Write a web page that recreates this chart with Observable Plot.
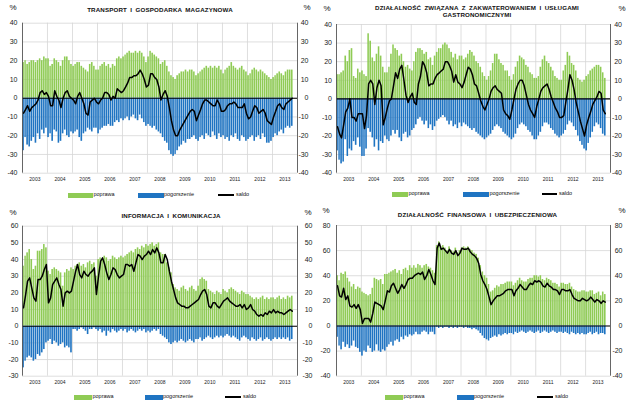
<!DOCTYPE html>
<html>
<head>
<meta charset="utf-8">
<script src="https://cdn.jsdelivr.net/npm/d3@7"></script>
<script src="https://cdn.jsdelivr.net/npm/@observablehq/plot@0.6"></script>
<style>
  html, body { margin: 0; padding: 0; background: #fff; }
  #root { position: relative; width: 640px; height: 415px; overflow: hidden; background: #fff;
          font-family: "Liberation Sans", Arial, sans-serif; color: #111; }
  #root svg { position: absolute; overflow: visible; }
  .t { position: absolute; white-space: nowrap; line-height: 1; }
  .title { font-weight: bold; font-size: 6.2px; letter-spacing: 0.15px; word-spacing: 1.5px; }
  .pct { font-size: 8px; }
  .leg { font-size: 5.5px; }
  .sw { position: absolute; }
</style>
</head>
<body>
<div id="root"></div>
<script>
// ---------- categories / tick labels ----------
const startYear = 2003;
const monthCount = 130;          // Jan 2003 – Oct 2013
const years = [2003, 2004, 2005, 2006, 2007, 2008, 2009, 2010, 2011, 2012, 2013];
const legendLabels = ["poprawa", "pogorszenie", "saldo"];

// ---------- TRANSPORT I GOSPODARKA MAGAZYNOWA ----------
const transportPoprawa = [
  19,20,18,19,20,20,19,20,21,20,22,21,
  21,17,18,21,20,19,17,20,22,22,20,18,
  17,18,19,19,17,16,15,14,18,19,17,15,
  15,17,18,19,17,18,16,18,17,21,22,21,
  22,23,24,25,24,24,25,24,25,24,22,19,
  22,25,24,23,22,21,18,19,20,17,14,12,
  11,10,12,13,14,14,15,14,15,15,14,12,
  13,14,15,16,17,16,17,16,17,16,17,15,
  13,15,16,17,19,17,16,15,16,17,15,14,
  12,13,15,16,15,14,15,14,13,12,11,10,
  11,12,13,14,13,12,14,15,15,15];
const transportPogorszenie = [
  -28,-21,-25,-26,-23,-21,-24,-19,-22,-17,-19,-16,
  -21,-19,-23,-17,-18,-24,-23,-19,-17,-20,-21,-18,
  -19,-18,-17,-21,-23,-19,-18,-16,-17,-18,-16,-16,
  -19,-17,-16,-15,-15,-14,-15,-15,-13,-12,-13,-11,
  -12,-11,-10,-12,-10,-9,-11,-12,-9,-11,-13,-15,
  -14,-15,-16,-15,-17,-18,-19,-21,-23,-24,-28,-30,
  -31,-30,-28,-26,-25,-23,-24,-22,-22,-21,-20,-22,
  -23,-21,-20,-22,-19,-20,-21,-18,-20,-22,-19,-21,
  -20,-22,-21,-23,-20,-21,-19,-22,-23,-20,-21,-23,
  -22,-21,-20,-23,-21,-20,-22,-19,-21,-24,-24,-23,
  -21,-19,-20,-18,-17,-19,-16,-15,-16,-15];
const transportSaldo = [
  -8,-6,-4,-7,-5,-4,-3,-1,3,4,2,3,
  1,-4,-4,4,1,-1,-5,0,3,4,1,0,
  -1,-3,1,3,0,-3,-8,-9,-2,-1,0,-2,
  -3,-1,0,3,3,2,-1,1,0,5,4,3,
  4,6,8,11,11,12,12,13,15,13,10,6,
  7,13,13,11,10,6,-1,2,4,1,-5,-12,
  -17,-20,-20,-17,-15,-13,-11,-9,-7,-6,-7,-12,
  -9,-6,-3,-1,-1,-2,-3,-4,-4,-1,-3,-7,
  -7,-6,-4,-3,-3,-2,-3,-5,-5,-5,-3,-8,
  -11,-10,-7,-4,-5,-8,-7,-6,-8,-12,-13,-14,
  -10,-7,-4,-3,-5,-6,-3,-2,-1,0];

// ---------- ZAKWATEROWANIE I GASTRONOMIA ----------
const hotelPoprawa = [
  13,13,14,15,23,20,26,27,12,11,16,14,
  15,13,12,35,31,22,20,24,28,23,17,14,
  14,17,24,29,27,26,23,24,20,17,18,16,
  15,20,25,27,27,26,24,25,21,22,18,23,
  25,27,27,29,30,29,27,25,22,24,21,23,
  23,21,22,24,26,25,23,20,19,17,14,12,
  10,12,15,19,24,24,21,19,18,15,15,12,
  10,13,17,20,23,22,21,18,17,14,13,11,
  11,12,17,21,23,20,19,17,15,12,11,10,
  10,15,18,25,23,19,18,15,11,10,9,10,
  12,13,15,16,17,18,18,17,14,11];
const hotelPogorszenie = [
  -28,-33,-35,-34,-22,-31,-27,-28,-23,-25,-21,-26,
  -31,-31,-27,-16,-18,-21,-26,-22,-28,-23,-24,-20,
  -22,-23,-20,-17,-19,-17,-21,-23,-19,-18,-21,-20,
  -17,-16,-14,-11,-10,-12,-14,-12,-16,-14,-17,-15,
  -12,-11,-10,-9,-10,-12,-14,-12,-15,-14,-16,-13,
  -15,-13,-14,-15,-16,-17,-16,-18,-19,-20,-21,-22,
  -21,-20,-19,-17,-15,-14,-15,-16,-18,-19,-20,-21,
  -22,-21,-19,-16,-14,-13,-14,-15,-17,-18,-20,-22,
  -22,-20,-18,-15,-13,-13,-14,-16,-17,-19,-20,-21,
  -20,-19,-17,-14,-12,-13,-15,-17,-20,-23,-25,-27,
  -28,-24,-21,-18,-15,-13,-14,-16,-19,-20];
const hotelSaldo = [
  -15,-19,-21,-14,-7,-5,0,-10,-10,-12,-8,-8,
  -8,-16,-9,8,10,8,-3,6,10,7,-14,-10,
  -5,-1,0,7,14,11,16,18,10,2,-2,1,
  3,-2,-3,8,12,20,18,14,7,8,8,11,
  13,14,15,16,20,20,18,15,9,13,9,8,
  6,9,13,17,16,13,8,7,3,-1,-4,-6,
  -3,0,4,6,7,5,4,3,-6,-8,-9,-11,
  -6,0,5,8,10,10,7,2,-3,-6,-8,-10,
  -4,0,4,6,7,8,5,1,-2,-5,-7,-10,
  -10,-9,-2,5,13,10,5,-2,-7,-12,-16,-20,
  -14,-10,-7,-3,-1,1,4,3,-6,-8];

// ---------- INFORMACJA I KOMUNIKACJA ----------
const infoPoprawa = [
  36,42,44,46,40,34,36,45,45,46,49,47,
  33,31,34,35,34,33,32,24,32,34,33,35,
  34,36,37,38,36,37,35,38,39,37,38,30,
  40,41,40,42,41,39,40,42,41,40,41,42,
  41,42,43,44,45,44,46,47,46,48,47,49,
  48,49,50,48,49,50,44,43,43,38,35,32,
  25,23,22,21,23,24,22,21,23,24,22,21,
  24,28,29,28,27,22,21,20,19,21,20,19,
  22,21,20,22,23,22,21,20,19,21,20,19,
  19,18,17,16,17,16,17,18,16,17,16,17,
  17,16,17,18,16,17,16,18,17,18];
const infoPogorszenie = [
  -25,-21,-19,-18,-19,-21,-20,-17,-18,-16,-14,-10,
  -9,-8,-11,-9,-10,-12,-11,-10,-13,-12,-13,-16,
  -2,-2,-3,-2,-1,-2,-3,-5,-2,-2,-1,-2,
  -3,-2,-4,-3,-6,-3,-4,-2,-3,-4,-3,-2,
  -3,-2,-4,-3,-2,-3,-4,-3,-2,-3,-2,-4,
  -3,-4,-3,-2,-3,-2,-5,-6,-7,-8,-10,-11,
  -10,-9,-10,-9,-8,-9,-10,-9,-8,-9,-10,-8,
  -8,-7,-9,-8,-7,-6,-7,-8,-7,-6,-7,-6,
  -7,-6,-5,-6,-7,-6,-7,-8,-9,-7,-6,-7,
  -8,-9,-7,-8,-9,-8,-7,-9,-8,-7,-8,-9,
  -8,-7,-8,-7,-8,-7,-8,-7,-9,-8];
const infoSaldo = [
  11,19,27,29,23,17,15,28,28,30,34,37,
  14,17,25,27,29,25,22,12,20,21,20,21,
  27,33,37,31,29,33,31,30,32,33,35,19,
  30,39,41,37,32,28,31,35,34,31,29,30,
  31,37,37,36,37,33,38,43,42,40,42,43,
  45,43,46,44,47,44,38,38,43,40,33,27,
  22,17,14,13,12,12,11,11,12,13,14,15,
  16,19,21,22,19,12,11,14,14,12,11,13,
  15,16,17,15,14,13,12,12,13,11,13,10,
  11,13,10,9,7,6,7,6,8,7,9,8,
  10,8,9,8,8,7,8,9,10,9];

// ---------- FINANSE I UBEZPIECZENIA ----------
const financePoprawa = [
  40,36,42,41,43,38,35,31,33,29,31,30,
  27,26,25,24,25,30,38,37,36,37,33,41,
  41,42,43,44,45,42,44,41,45,46,44,48,
  46,48,46,49,48,46,48,49,47,46,44,42,
  64,67,63,64,62,60,63,60,59,62,58,60,
  62,63,62,63,61,60,58,57,54,48,43,40,
  38,33,27,28,30,32,31,33,33,34,35,35,
  35,32,34,36,38,36,35,35,37,38,38,40,
  40,39,40,37,36,38,37,36,34,34,33,31,
  34,34,33,33,34,31,29,28,27,27,28,28,
  27,27,28,28,25,26,27,24,27,25];
const financePogorszenie = [
  -9,-16,-19,-13,-17,-15,-18,-16,-12,-17,-18,-21,
  -24,-20,-21,-16,-18,-21,-20,-15,-20,-21,-19,-20,
  -17,-15,-13,-16,-12,-11,-13,-9,-11,-8,-9,-7,
  -8,-7,-5,-7,-7,-5,-4,-5,-7,-5,-5,-7,
  -1,-2,-1,-2,-1,-1,-2,-1,-2,-1,-2,-1,
  -1,-2,-1,-2,-2,-3,-2,-3,-4,-6,-8,-10,
  -11,-12,-10,-9,-8,-9,-7,-8,-7,-6,-7,-6,
  -6,-7,-5,-6,-5,-4,-5,-6,-5,-4,-5,-6,
  -5,-4,-6,-5,-4,-5,-6,-5,-4,-5,-6,-5,
  -5,-6,-5,-6,-7,-5,-6,-7,-6,-7,-6,-7,
  -7,-6,-5,-7,-6,-5,-7,-6,-6,-7];
const financeSaldo = [
  32,24,23,30,21,24,16,15,17,14,17,13,
  2,6,6,6,3,10,19,18,17,16,13,20,
  28,27,32,34,30,26,29,33,30,33,37,38,
  38,40,41,42,41,43,37,40,45,41,36,33,
  62,66,61,62,60,58,61,58,57,60,56,58,
  62,61,61,62,59,57,56,54,50,41,36,33,
  29,23,17,20,22,24,24,25,26,28,29,29,
  29,24,28,30,33,31,29,29,32,34,33,36,
  35,36,35,32,31,34,32,31,29,29,28,25,
  29,29,28,28,29,25,22,21,20,20,22,21,
  20,21,23,21,19,21,20,18,20,19];

// ---------- titles / y ticks ----------
const titles = [
  ["TRANSPORT I GOSPODARKA MAGAZYNOWA"],
  ["DZIAŁALNOŚĆ ZWIĄZANA Z ZAKWATEROWANIEM I USŁUGAMI", "GASTRONOMICZNYMI"],
  ["INFORMACJA I KOMUNIKACJA"],
  ["DZIAŁALNOŚĆ FINANSOWA I UBEZPIECZENIOWA"]
];
const ticksA = [-40, -30, -20, -10, 0, 10, 20, 30, 40];
const ticksC = [-30, -20, -10, 0, 10, 20, 30, 40, 50, 60];
const ticksD = [-40, -20, 0, 20, 40, 60, 80];

// ---------- styling ----------
const GREEN = "#8fcb55";
const BLUE = "#1f74c2";
const GRID = "#d6d6d6";

const START = new Date(Date.UTC(startYear, 0, 1));
const END = new Date(Date.UTC(years[years.length - 1] + 1, 0, 1));
const monthDates = d3.utcMonth.range(START, d3.utcMonth.offset(START, monthCount));
const yearStarts = years.slice(1).map(y => new Date(Date.UTC(y, 0, 1)));
const yearMids = years.map(y => new Date(Date.UTC(y, 6, 1)));

const panels = [
  { p: transportPoprawa, n: transportPogorszenie, s: transportSaldo, ticks: ticksA,
    box: {x: 0, y: 0, w: 320, h: 190}, m: {l: 22, r: 23, t: 22.7, b: 17.3},
    padL: 5, padR: 11, titleX: 160, titleY: [10], pct: [[13, 8], [307, 8]],
    legY: 195, leg: [68, 93, 138, 163.5, 218, 236] },
  { p: hotelPoprawa, n: hotelPogorszenie, s: hotelSaldo, ticks: ticksA,
    box: {x: 320, y: 0, w: 320, h: 190}, m: {l: 16, r: 30, t: 24, b: 17.3},
    padL: 4.5, padR: 11.5, titleX: 477, titleY: [8.3, 15.3], pct: [[327, 9], [622, 9]],
    legY: 194, leg: [392, 408, 463, 489, 542, 559] },
  { p: infoPoprawa, n: infoPogorszenie, s: infoSaldo, ticks: ticksC,
    box: {x: 0, y: 205, w: 320, h: 190}, m: {l: 22, r: 23, t: 20.7, b: 19.3},
    padL: 4, padR: 15, titleX: 171, titleY: [215.7], pct: [[13, 213], [308, 213]],
    legY: 397.3, leg: [74, 92, 145, 162.5, 225, 243] },
  { p: financePoprawa, n: financePogorszenie, s: financeSaldo, ticks: ticksD,
    box: {x: 320, y: 205, w: 320, h: 190}, m: {l: 16, r: 30, t: 20, b: 19.3},
    padL: 6, padR: 12, titleX: 477.5, titleY: [215], pct: [[326, 211], [622, 211]],
    legY: 397.3, leg: [385, 403, 457, 473.5, 537, 555] }
];

const root = document.getElementById("root");
function txt(str, x, y, cls, tf) {
  const el = document.createElement("div");
  el.className = "t " + cls;
  el.textContent = str;
  el.style.left = x + "px";
  el.style.top = y + "px";
  el.style.transform = tf || "translate(-50%,-50%)";
  root.appendChild(el);
  return el;
}
function sw(x, y, w, h, color) {
  const el = document.createElement("div");
  el.className = "sw";
  Object.assign(el.style, {left: x + "px", top: y + "px", width: w + "px", height: h + "px", background: color});
  root.appendChild(el);
}

panels.forEach((P, k) => {
  const rows = monthDates.map((d, i) => ({
    date: d,
    mid: d3.utcDay.offset(d, 15),
    p: P.p[i], n: P.n[i], s: P.s[i]
  }));
  const yd = [P.ticks[0], P.ticks[P.ticks.length - 1]];
  const svg = Plot.plot({
    width: P.box.w, height: P.box.h,
    marginLeft: P.m.l, marginRight: P.m.r, marginTop: P.m.t, marginBottom: P.m.b,
    style: {fontFamily: "'Liberation Sans', Arial, sans-serif", background: "transparent", color: "#222", overflow: "visible"},
    x: {type: "utc", domain: [START, END], label: null},
    y: {domain: yd, label: null},
    marks: [
      Plot.gridY(P.ticks, {stroke: GRID, strokeOpacity: 1, strokeWidth: 0.8}),
      Plot.gridX(yearStarts, {stroke: GRID, strokeOpacity: 1, strokeWidth: 0.8}),
      Plot.rectY(rows, {x: "date", interval: "month", y: "p", fill: GREEN, insetLeft: 0.25, insetRight: 0.25}),
      Plot.rectY(rows, {x: "date", interval: "month", y: "n", fill: BLUE, insetLeft: 0.25, insetRight: 0.25}),
      Plot.ruleY([0], {stroke: "#000", strokeWidth: 1.1}),
      Plot.lineY(rows, {x: "mid", y: "s", stroke: "#000", strokeWidth: 1.5, strokeLinejoin: "round"}),
      Plot.ruleX([START, END], {stroke: "#555", strokeWidth: 0.9}),
      Plot.axisY(P.ticks, {anchor: "left", tickSize: 0, tickPadding: P.padL, fontSize: 7, tickFormat: d => String(d), label: null}),
      Plot.text(P.ticks, {x: END, y: d => d, text: d => String(d), dx: P.padR, textAnchor: "end", fontSize: 7, fill: "#222"}),
      Plot.axisX(yearMids, {anchor: "bottom", tickSize: 0, tickPadding: 4.5, fontSize: 5, tickFormat: "%Y", label: null})
    ]
  });
  svg.style.left = P.box.x + "px";
  svg.style.top = P.box.y + "px";
  root.appendChild(svg);

  titles[k].forEach((line, j) => txt(line, P.titleX, P.titleY[j], "title"));
  P.pct.forEach(([x, y]) => txt("%", x, y, "pct"));
  const L = P.leg, ly = P.legY;
  sw(L[0], ly - 2.5, L[1] - L[0], 5, GREEN);
  txt(legendLabels[0], L[1] + 0.5, ly, "leg", "translate(0,-50%)");
  sw(L[2], ly - 2.5, L[3] - L[2], 5, BLUE);
  txt(legendLabels[1], L[3] + 0.5, ly, "leg", "translate(0,-50%)");
  sw(L[4], ly - 1, L[5] - L[4] - 2, 2, "#000");
  txt(legendLabels[2], L[5], ly, "leg", "translate(0,-50%)");
});
</script>
</body>
</html>
